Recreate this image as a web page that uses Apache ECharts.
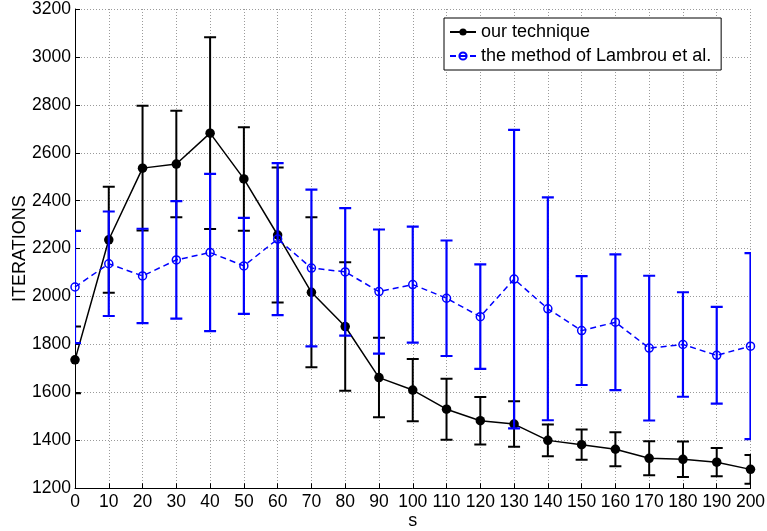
<!DOCTYPE html>
<html><head><meta charset="utf-8">
<script src="https://cdn.jsdelivr.net/npm/echarts@6/dist/echarts.min.js"></script>
<style>html,body{margin:0;padding:0;background:#fff}#c{width:767px;height:531px}</style>
</head><body><div id="c"></div>
<script>
const s = [0,10,20,30,40,50,60,70,80,90,100,110,120,130,140,150,160,170,180,190,200];
const ourMean = [1736,2237,2536,2553,2682,2491,2257,2018,1875,1662,1610,1530,1482,1468,1400,1382,1363,1325,1321,1309,1279];
const ourErr  = [139,221,260,222,400,216,282,313,268,166,130,127,99,95,66,63,71,71,74,59,60];
const lambMean = [2040,2137,2086,2153,2184,2128,2240,2119,2103,2021,2050,1993,1916,2073,1949,1858,1893,1785,1800,1755,1793];
const lambErr  = [234,218,197,245,328,200,317,327,266,259,242,241,218,623,465,227,283,302,218,202,388];
const seriesNames = ['our technique','the method of Lambrou et al.'];

const FONT = '"Liberation Sans", Arial, Helvetica, sans-serif';
const chart = echarts.init(document.getElementById('c'), null, {renderer:'canvas'});

function errBar(color, lw){
  return function(params, api){
    const x = api.value(0), m = api.value(1), e = api.value(2);
    const t = api.coord([x, m + e]), b = api.coord([x, m - e]);
    const hw = 6;
    const st = {stroke: color, lineWidth: lw};
    return {type:'group', children:[
      {type:'line', shape:{x1:t[0],y1:t[1],x2:b[0],y2:b[1]}, style:st},
      {type:'line', shape:{x1:t[0]-hw,y1:t[1],x2:t[0]+hw,y2:t[1]}, style:st},
      {type:'line', shape:{x1:b[0]-hw,y1:b[1],x2:b[0]+hw,y2:b[1]}, style:st}
    ]};
  };
}

const gridLine = {show:true, lineStyle:{color:'#9a9a9a', width:1, type:[1,2]}};

chart.setOption({
  animation:false,
  backgroundColor:'#fff',
  textStyle:{fontFamily:FONT},
  grid:{left:75, right:16.5, top:9, bottom:42.7, containLabel:false, outerBoundsMode:'none'},
  legend:{
    data: seriesNames,
    orient:'vertical', left:444, top:18,
    padding:[5,10,5,5], itemGap:6, itemWidth:26, itemHeight:9,
    borderColor:'#000', borderWidth:1, backgroundColor:'#fff',
    textStyle:{fontFamily:FONT, fontSize:18, color:'#000'}
  },
  xAxis:{
    type:'value', min:0, max:200, interval:10,
    name:'s', nameLocation:'middle', nameGap:24, nameMoveOverlap:false,
    nameTextStyle:{fontFamily:FONT, fontSize:18, color:'#000'},
    axisLine:{show:true, onZero:false, lineStyle:{color:'#000', width:1}},
    axisTick:{show:true, inside:true, length:5, lineStyle:{color:'#000'}},
    axisLabel:{fontFamily:FONT, fontSize:17.5, color:'#000', margin:5, formatter:v=>String(v)},
    splitLine:gridLine
  },
  yAxis:{
    type:'value', min:1200, max:3200, interval:200,
    name:'ITERATIONS', nameLocation:'middle', nameGap:46, nameRotate:90, nameMoveOverlap:false,
    nameTextStyle:{fontFamily:FONT, fontSize:18, color:'#000'},
    axisLine:{show:true, lineStyle:{color:'#000', width:1}},
    axisTick:{show:true, inside:true, length:5, lineStyle:{color:'#000'}},
    axisLabel:{fontFamily:FONT, fontSize:17.5, color:'#000', margin:4, formatter:v=>String(v)},
    splitLine:gridLine
  },
  series:[
    {type:'custom', name:'ourErr', clip:true, z:2,
     renderItem: errBar('#000', 2),
     data: s.map((x,i)=>[x, ourMean[i], ourErr[i]])},
    {type:'line', name:seriesNames[0], z:3,
     data: s.map((x,i)=>[x, ourMean[i]]),
     symbol:'circle', symbolSize:9.5, showAllSymbol:true,
     lineStyle:{color:'#000', width:1.5},
     itemStyle:{color:'#000'}},
    {type:'custom', name:'lambErr', clip:true, z:4,
     renderItem: errBar('#0000ff', 2.2),
     data: s.map((x,i)=>[x, lambMean[i], lambErr[i]])},
    {type:'line', name:seriesNames[1], z:5,
     data: s.map((x,i)=>[x, lambMean[i]]),
     symbol:'circle', symbolSize:8, showAllSymbol:true,
     lineStyle:{color:'#0000ff', width:1.5, type:[6,4]},
     itemStyle:{color:'rgba(0,0,0,0)', borderColor:'#0000ff', borderWidth:1.5}}
  ]
});
</script>
</body></html>
